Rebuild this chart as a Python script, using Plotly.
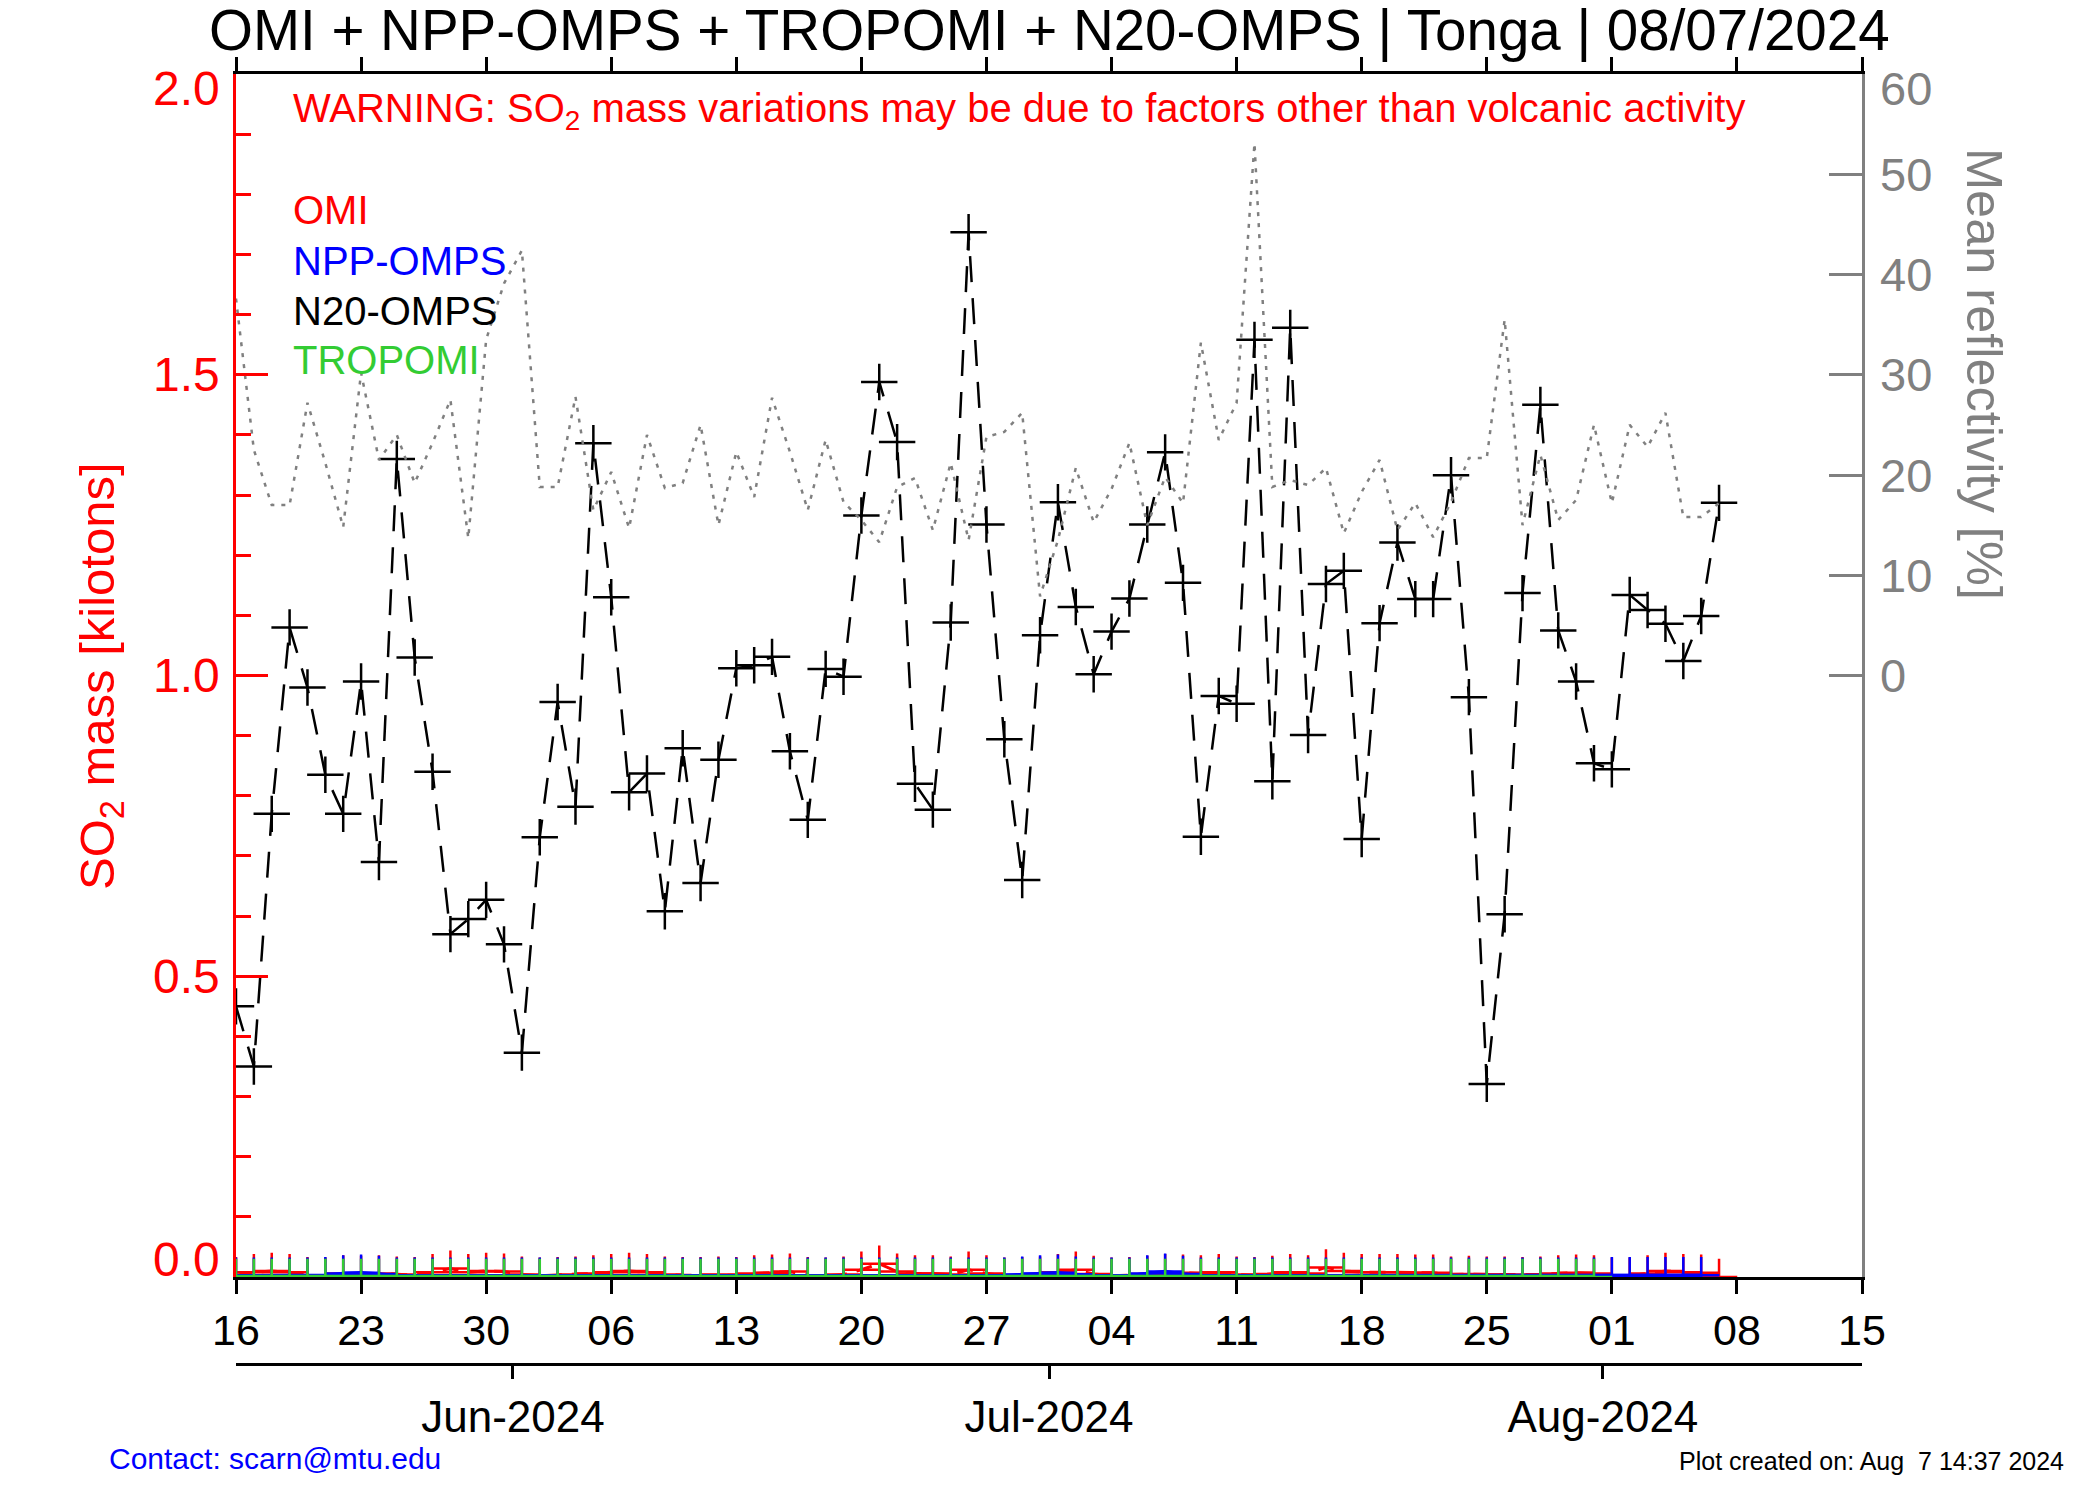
import plotly.graph_objects as go
import pandas as pd

# ---------------- data ----------------
start_day = "2024-05-16 12:00"
end_day = "2024-08-15 12:00"
dates = pd.date_range(start_day, periods=84, freq="D")

n20_omps = [0.45, 0.35, 0.77, 1.08, 0.98, 0.835, 0.77, 0.99, 0.69, 1.36,
            1.03, 0.84, 0.57, 0.595, 0.627, 0.553, 0.373, 0.731, 0.956, 0.782,
            1.386, 1.13, 0.806, 0.837, 0.608, 0.879, 0.655, 0.86, 1.012, 1.017,
            1.031, 0.874, 0.76, 1.011, 0.998, 1.266, 1.488, 1.388, 0.82, 0.777,
            1.088, 1.737, 1.251, 0.894, 0.66, 1.067, 1.288, 1.114, 1.002, 1.073,
            1.128, 1.251, 1.371, 1.154, 0.732, 0.966, 0.953, 1.558, 0.824, 1.578,
            0.901, 1.152, 1.174, 0.728, 1.087, 1.221, 1.127, 1.127, 1.333, 0.964,
            0.321, 0.603, 1.137, 1.45, 1.075, 0.99, 0.854, 0.844, 1.134, 1.109,
            1.086, 1.024, 1.099, 1.287]

reflectivity = [37.6, 22.5, 17.0, 17.0, 27.2, 21.2, 14.8, 30.2, 21.5, 24.0,
                19.2, 23.2, 27.5, 13.7, 33.5, 39.1, 42.4, 18.8, 18.8, 27.8,
                16.5, 20.3, 14.7, 24.0, 18.7, 19.2, 25.0, 15.0, 22.3, 17.8,
                27.7, 22.3, 16.5, 23.5, 17.3, 15.5, 13.3, 18.8, 19.7, 14.5,
                21.2, 13.5, 23.8, 24.3, 26.2, 7.9, 13.5, 20.7, 15.3, 18.6,
                23.2, 15.0, 19.8, 17.2, 33.2, 23.5, 27.2, 53.1, 18.8, 19.5,
                19.0, 20.7, 14.2, 18.3, 21.5, 14.5, 17.2, 13.8, 17.3, 21.7,
                21.7, 35.5, 15.0, 22.0, 15.5, 17.5, 25.0, 17.2, 25.0, 22.8,
                26.2, 15.8, 15.8, 17.2]

omi = [0.003, 0.008, 0.010, 0.008, 0.003, 0.002, 0.006, 0.005, 0.006, 0.004,
       0.003, 0.008, 0.014, 0.008, 0.010, 0.009, 0.004, 0.002, 0.003, 0.004,
       0.006, 0.008, 0.010, 0.008, 0.004, 0.003, 0.003, 0.004, 0.003, 0.006,
       0.007, 0.009, 0.003, 0.002, 0.004, 0.012, 0.022, 0.009, 0.006, 0.006,
       0.004, 0.012, 0.006, 0.002, 0.003, 0.004, 0.008, 0.012, 0.005, 0.002,
       0.003, 0.005, 0.008, 0.007, 0.006, 0.008, 0.004, 0.003, 0.005, 0.008,
       0.006, 0.016, 0.010, 0.008, 0.008, 0.008, 0.007, 0.007, 0.004, 0.005,
       0.004, 0.004, 0.003, 0.004, 0.006, 0.007, 0.006, 0.002, 0.002, 0.006,
       0.010, 0.008, 0.007, 0.000]

npp_omps = [0.002, 0.002, 0.002, 0.002, 0.002, 0.003, 0.006, 0.007, 0.005, 0.002,
            0.002, 0.002, 0.002, 0.002, 0.002, 0.002, 0.002, 0.002, 0.002, 0.002,
            0.002, 0.002, 0.002, 0.002, 0.002, 0.002, 0.002, 0.002, 0.002, 0.002,
            0.002, 0.002, 0.002, 0.002, 0.002, 0.002, 0.002, 0.002, 0.002, 0.002,
            0.002, 0.002, 0.002, 0.002, 0.004, 0.006, 0.007, 0.004, 0.002, 0.002,
            0.002, 0.006, 0.009, 0.005, 0.002, 0.002, 0.002, 0.002, 0.002, 0.002,
            0.002, 0.002, 0.002, 0.002, 0.002, 0.002, 0.002, 0.002, 0.002, 0.002,
            0.002, 0.002, 0.002, 0.002, 0.002, 0.002, 0.002, 0.003, 0.003, 0.003,
            0.003, 0.003, 0.003]

tropomi = [0.0, 0.0, 0.0, 0.0, 0.0, 0.0, 0.0, 0.0, 0.0, 0.0,
           0.0, 0.0, 0.0, 0.0, 0.0, 0.0, 0.0, 0.0, 0.0, 0.0,
           0.0, 0.0, 0.0, 0.0, 0.0, 0.0, 0.0, 0.0, 0.0, 0.0,
           0.0, 0.0, 0.0, 0.0, 0.0, 0.0, 0.0, 0.0, 0.0, 0.0,
           0.0, 0.0, 0.0, 0.0, 0.0, 0.0, 0.0, 0.0, 0.0, 0.0,
           0.0, 0.0, 0.0, 0.0, 0.0, 0.0, 0.0, 0.0, 0.0, 0.0,
           0.0, 0.0, 0.0, 0.0, 0.0, 0.0, 0.0, 0.0, 0.0, 0.0,
           0.0, 0.0, 0.0, 0.0, 0.0, 0.0, 0.0]

week_ticks = pd.date_range(start_day, periods=14, freq="7D")
week_labels = ["16", "23", "30", "06", "13", "20", "27", "04", "11", "18",
               "25", "01", "08", "15"]
month_ticks = ["2024-06-01", "2024-07-01", "2024-08-01"]
month_labels = ["Jun-2024", "Jul-2024", "Aug-2024"]
so2_ticks = [0.0, 0.5, 1.0, 1.5, 2.0]
so2_labels = ["0.0", "0.5", "1.0", "1.5", "2.0"]
refl_ticks = [0, 10, 20, 30, 40, 50, 60]
refl_labels = ["0", "10", "20", "30", "40", "50", "60"]

# ---------------- layout geometry ----------------
W, H = 2100, 1500
L, R, T, B = 236, 1862, 74, 1364   # paper area in pixels
PLOT_BOTTOM = 1277
FONT = "Liberation Sans, Arial, Helvetica, sans-serif"
RED, BLUE, GREEN, GRAY = "#ff0000", "#0000ff", "#33cc33", "#808080"


def px(x):
    return (x - L) / (R - L)


def py(y):
    return (B - y) / (B - T)


fig = go.Figure()

fig.add_trace(go.Scatter(
    x=dates[:len(reflectivity)], y=reflectivity, yaxis="y2", mode="lines",
    line=dict(color=GRAY, width=2.5, dash="4px,7px"), showlegend=False))

cross = dict(symbol="cross-thin", size=26)
fig.add_trace(go.Scatter(
    x=dates[:len(omi)], y=omi, mode="lines+markers",
    line=dict(color=RED, width=3, dash="16px,10px"),
    marker=dict(**cross, color=RED, line=dict(color=RED, width=2.5)),
    showlegend=False))
fig.add_trace(go.Scatter(
    x=dates[:len(npp_omps)], y=npp_omps, mode="lines+markers",
    line=dict(color=BLUE, width=3.5),
    marker=dict(**cross, color=BLUE, line=dict(color=BLUE, width=2.5)),
    showlegend=False))
fig.add_trace(go.Scatter(
    x=dates[:len(n20_omps)], y=n20_omps, mode="lines+markers",
    line=dict(color="black", width=2.5, dash="26px,16px"),
    marker=dict(**cross, color="black", line=dict(color="black", width=2.5)),
    showlegend=False))
fig.add_trace(go.Scatter(
    x=dates[:len(tropomi)], y=tropomi, mode="lines+markers",
    line=dict(color=GREEN, width=4.5),
    marker=dict(**cross, color=GREEN, line=dict(color=GREEN, width=2.5)),
    showlegend=False))
# invisible trace to carry the month axis
fig.add_trace(go.Scatter(
    x=[start_day], y=[-1], xaxis="x3", mode="markers",
    marker=dict(opacity=0), showlegend=False, hoverinfo="skip"))

dom0 = (B - PLOT_BOTTOM) / (B - T)

fig.update_layout(
    width=W, height=H,
    margin=dict(l=L, r=W - R, t=T, b=H - B, pad=0),
    paper_bgcolor="white", plot_bgcolor="white",
    font=dict(family=FONT, color="black"),
    showlegend=False,
    xaxis=dict(
        type="date", range=[start_day, end_day], anchor="y",
        tickmode="array", tickvals=week_ticks, ticktext=week_labels,
        ticks="outside", ticklen=14, tickwidth=2.5, tickcolor="black",
        showline=True, linecolor="black", linewidth=2.5, mirror="ticks",
        showgrid=False, zeroline=False,
        tickfont=dict(size=43, color="black", family=FONT)),
    xaxis3=dict(
        type="date", range=[start_day, end_day], overlaying="x",
        anchor="free", position=0, side="bottom",
        tickmode="array", tickvals=month_ticks, ticktext=month_labels,
        ticks="outside", ticklen=13, tickwidth=2.5, tickcolor="black",
        showline=True, linecolor="black", linewidth=2.5,
        showgrid=False, zeroline=False,
        tickfont=dict(size=44, color="black", family=FONT)),
    yaxis=dict(
        range=[0, 2], domain=[dom0, 1], anchor="x",
        tickmode="array", tickvals=so2_ticks, showticklabels=False,
        ticks="inside", ticklen=32, tickwidth=2.5, tickcolor=RED,
        minor=dict(dtick=0.1, tick0=0, ticks="inside", ticklen=15,
                   tickwidth=2.5, tickcolor=RED, showgrid=False),
        showline=True, linecolor=RED, linewidth=2.5,
        showgrid=False, zeroline=False),
    yaxis2=dict(
        range=[-60, 60], overlaying="y", side="right", anchor="x",
        tickmode="array", tickvals=refl_ticks, showticklabels=False,
        ticks="inside", ticklen=33, tickwidth=2.5, tickcolor=GRAY,
        showline=True, linecolor=GRAY, linewidth=2.5,
        showgrid=False, zeroline=False),
)

ann = []


def text(x, y, s, size, color, xanchor="center", angle=0):
    ann.append(dict(x=px(x), y=py(y), xref="paper", yref="paper", text=s,
                    showarrow=False, xanchor=xanchor, yanchor="middle",
                    textangle=angle,
                    font=dict(size=size, color=color, family=FONT)))


# y tick labels (end labels are nudged inside the frame, as in the reference)
end_shift_left = {0.0: 18, 2.0: -14}
for v, lab in zip(so2_ticks, so2_labels):
    ann.append(dict(x=px(222), xref="paper", y=v, yref="y", text=lab,
                    showarrow=False, xanchor="right", yanchor="middle",
                    yshift=end_shift_left.get(v, 0),
                    font=dict(size=48, color=RED, family=FONT)))
end_shift_right = {60: -14}
for v, lab in zip(refl_ticks, refl_labels):
    ann.append(dict(x=px(1878), xref="paper", y=v, yref="y2", text=lab,
                    showarrow=False, xanchor="left", yanchor="middle",
                    yshift=end_shift_right.get(v, 0),
                    font=dict(size=47, color=GRAY, family=FONT)))

text(1049, 30, "OMI + NPP-OMPS + TROPOMI + N20-OMPS | Tonga | 08/07/2024", 56.5, "black")
text(291, 111, "WARNING: SO<sub>2</sub> mass variations may be due to factors other than volcanic activity",
     40, RED, xanchor="left")
text(291, 210, "OMI", 40, RED, xanchor="left")
text(291, 261, "NPP-OMPS", 40, BLUE, xanchor="left")
text(291, 311, "N20-OMPS", 40, "black", xanchor="left")
text(291, 360, "TROPOMI", 40, GREEN, xanchor="left")
text(100, 676, "SO<sub>2</sub> mass [kilotons]", 49, RED, angle=-90)
text(1984, 374, "Mean reflectivity [%]", 50.5, GRAY, angle=90)
text(107, 1459, "Contact: scarn@mtu.edu", 30, BLUE, xanchor="left")
text(2066, 1461, "Plot created on: Aug\u00a0\u00a07 14:37 2024", 25, "black", xanchor="right")

fig.update_layout(annotations=ann)

fig.write_html("out.html", config={"displayModeBar": False},
               post_script="document.body.style.margin='0';")
